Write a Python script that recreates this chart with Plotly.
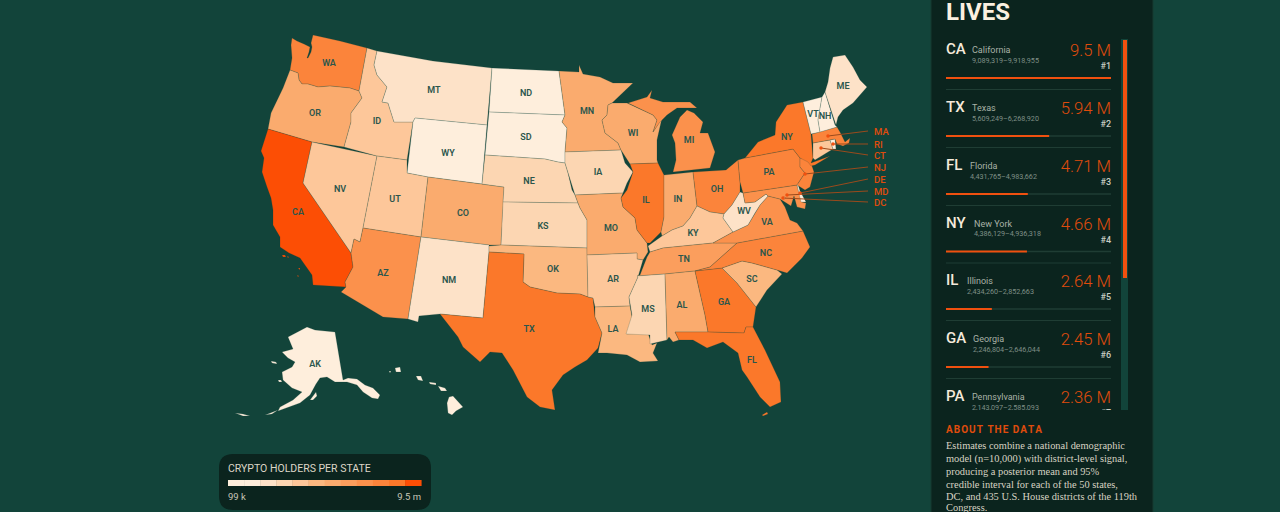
import numpy as np
import plotly.graph_objects as go

BG = "#12443a"
PANEL = "#0b241e"
ORANGE = "#e04c0c"

# state outlines, in picture pixels
WA = [[(292,38),(297,41),(304,44),(310,47),(309,52),(307,58),(308,58),(311,52),(312,47),(311,43),(313,35),(340,41),(367,48),(359,91),(350,88),(330,86),(318,87),(308,84),(302,84),(299,80),(298,73),(290,70),(292,58),(291,45)]]
OR = [[(290,70),(298,73),(299,80),(302,84),(308,84),(318,87),(330,86),(350,88),(359,91),(362,98),(351,113),(351,122),(344,147),(312,142),(268,129),(271,113),(283,88)]]
CA = [[(268,129),(312,142),(303,183),(351,253),(353,267),(345,282),(346,287),(313,285),(312,275),(300,258),(289,253),(280,247),(280,237),(273,225),(273,210),(271,198),(267,187),(262,172),(264,158),(261,151)],
      [(282,255),(285,255),(286,257),(283,257)],[(287,256),(289,257),(288,258)],[(298,268),(300,268),(300,270)],[(297,275),(299,276),(298,277)]]
NV = [[(312,142),(377,156),(363,228),(360,242),(354,239),(351,253),(303,183)]]
ID = [[(367,48),(377,51),(374,65),(377,75),(387,87),(382,102),(388,103),(394,122),(413,122),(407,160),(377,156),(344,147),(351,122),(351,113),(362,98),(359,91)]]
MT = [[(377,51),(433,61),(492,68),(487,125),(415,118),(413,122),(394,122),(388,103),(382,102),(387,87),(377,75),(374,65)]]
WY = [[(415,118),(487,125),(482,184),(428,177),(407,173),(413,122)]]
UT = [[(377,156),(407,160),(407,173),(428,177),(421,237),(363,228)]]
CO = [[(428,177),(482,184),(504,187),(501,245),(489,245),(421,237)]]
AZ = [[(363,228),(421,237),(408,319),(383,317),(341,292),(346,287),(345,282),(353,267),(351,253),(354,239),(360,242)]]
NM = [[(421,237),(489,245),(489,252),(483,318),(440,314),(419,316),(418,322),(408,319)]]
ND = [[(492,68),(559,71),(565,115),(489,112)]]
SD = [[(489,112),(565,115),(562,122),(567,128),(565,152),(565,163),(558,162),(545,159),(485,155)]]
NE = [[(485,155),(545,159),(558,162),(565,163),(568,173),(572,190),(575,195),(578,203),(503,202),(504,187),(482,184)]]
KS = [[(503,202),(578,203),(580,208),(587,220),(587,248),(501,245)]]
OK = [[(489,246),(501,245),(587,248),(588,297),(580,294),(557,293),(530,287),(523,282),(524,254),(489,252)]]
TX = [[(489,252),(524,254),(523,282),(530,287),(557,293),(580,294),(588,297),(593,298),(595,317),(602,333),(598,348),(587,360),(575,367),(563,375),(552,390),(555,410),(540,407),(527,397),(513,370),(502,353),(490,352),(480,362),(463,347),(458,337),(440,314),(483,318)]]
MN = [[(559,71),(579,72),(579,65),(583,74),(600,77),(613,83),(633,83),(612,103),(608,105),(607,115),(602,120),(605,133),(618,143),(621,150),(565,152),(567,128),(562,122),(565,115)]]
IA = [[(565,152),(621,150),(625,163),(633,172),(627,183),(623,193),(575,195),(568,173),(565,163)]]
MO = [[(575,195),(623,193),(621,198),(623,207),(635,218),(637,230),(647,243),(648,252),(643,260),(637,259),(637,253),(587,255),(587,220),(580,208),(578,203)]]
AR = [[(587,255),(637,253),(637,259),(643,260),(638,277),(629,297),(630,306),(595,307),(593,298),(588,297)]]
LA = [[(595,307),(630,306),(632,317),(627,334),(648,333),(652,345),(657,343),(653,353),(658,361),(640,362),(627,355),(607,353),(598,353),(602,333),(595,317)]]
WI = [[(608,105),(612,103),(627,103),(653,115),(657,120),(653,132),(662,118),(657,140),(657,160),(658,163),(630,164),(621,150),(618,143),(605,133),(602,120),(607,115)]]
IL = [[(630,164),(658,163),(664,175),(664,217),(661,232),(650,243),(647,243),(637,230),(635,218),(623,207),(621,198),(627,190),(633,172)]]
MI = [[(628,103),(647,97),(652,90),(650,98),(663,102),(690,102),(697,108),(677,108),(667,115),(660,122),(653,132),(657,120),(653,115)],
      [(673,172),(676,160),(675,143),(672,135),(680,117),(687,110),(694,113),(703,122),(700,133),(708,133),(715,152),(710,168)]]
IN = [[(664,175),(693,172),(697,206),(690,218),(683,226),(672,230),(662,236),(661,232),(664,217)]]
OH = [[(693,172),(717,171),(726,170),(738,160),(740,182),(740,192),(732,205),(724,214),(710,212),(697,206)]]
KY = [[(648,246),(662,236),(672,230),(683,226),(690,218),(697,206),(710,212),(724,214),(723,218),(733,232),(713,243),(663,248),(650,252)]]
TN = [[(650,252),(663,248),(713,243),(737,243),(710,267),(695,271),(665,274),(637,276),(640,275),(647,257)]]
MS = [[(637,276),(665,274),(667,340),(658,342),(650,344),(650,335),(626,334),(632,315),(629,297),(638,277)]]
AL = [[(665,274),(695,271),(705,315),(708,332),(675,332),(679,340),(673,342),(669,337),(667,340)]]
GA = [[(695,271),(722,268),(737,283),(756,307),(753,327),(746,327),(744,333),(708,332),(705,315)]]
FL = [[(675,332),(708,332),(744,333),(746,327),(753,327),(765,350),(780,382),(781,402),(770,407),(760,397),(747,377),(742,370),(738,353),(723,342),(707,348),(693,340),(679,340)],
      [(762,415),(767,412),(768,414),(763,416)]]
SC = [[(722,268),(742,261),(752,263),(777,270),(782,274),(767,290),(756,307),(737,283)]]
NC = [[(710,267),(737,243),(803,231),(810,247),(802,258),(787,273),(777,270),(752,263),(742,261),(722,268),(695,271)]]
VA = [[(713,243),(733,232),(748,225),(755,213),(760,205),(768,196),(780,199),(785,207),(790,220),(797,223),(803,231),(737,243)]]
WV = [[(732,205),(740,192),(743,193),(745,203),(755,202),(766,194),(768,196),(760,205),(755,213),(748,225),(733,232),(723,218),(724,214)]]
MD = [[(743,193),(797,185),(802,202),(806,203),(805,209),(797,207),(794,196),(791,206),(780,199),(768,196),(766,194),(755,202),(745,203)]]
DE = [[(797,181),(800,191),(806,202),(801,202),(797,185)]]
PA = [[(738,160),(745,158),(793,149),(800,158),(800,167),(805,173),(797,185),(743,193),(740,182)]]
NJ = [[(800,158),(810,160),(814,172),(810,187),(805,190),(797,185),(805,173),(800,167)]]
NY = [[(745,158),(758,142),(775,135),(776,122),(787,105),(803,102),(811,134),(813,158),(811,163),(830,156),(815,165),(811,166),(808,162),(800,158),(793,149)]]
CT = [[(813,143),(830,140),(833,149),(815,160),(813,158)]]
RI = [[(830,140),(835,139),(836,149),(833,149)]]
MA = [[(812,134),(837,127),(840,132),(845,142),(850,138),(849,143),(843,146),(837,144),(835,139),(830,140),(813,143)]]
VT = [[(803,102),(822,97),(818,120),(820,132),(811,134)]]
NH = [[(822,97),(825,92),(835,125),(837,127),(820,132),(818,120)]]
ME = [[(825,92),(828,82),(830,68),(833,57),(845,55),(853,67),(860,80),(867,87),(853,103),(843,110),(838,117),(836,125)]]
DC = [[(783,197),(785,197),(785,199),(783,199)]]
AK = [[(288,337),(297,332),(307,327),(315,330),(335,332),(343,380),(348,378),(357,379),(365,385),(373,388),(380,395),(378,399),(372,398),(363,392),(357,385),(347,382),(335,382),(327,377),(320,378),(316,384),(310,395),(300,403),(287,408),(278,411),(280,407),(293,400),(302,392),(292,388),(283,380),(282,372),(292,367),(295,362),(288,358),(282,352),(293,349)],
      [(235,413),(243,414),(250,416),(243,416)],[(265,415),(272,412),(278,410),(272,414)],[(310,400),(316,392),(317,396),(313,400)],
      [(271,361),(276,362),(277,364),(272,363)],[(278,380),(281,380),(282,382),(279,382)]]
HI = [[(447,403),(449,397),(453,396),(463,407),(456,411),(452,415),(448,413)],[(438,386),(445,388),(447,391),(441,391)],[(429,382),(436,383),(436,385),(430,384)],
      [(416,376),(421,376),(423,381),(418,380)],[(395,368),(400,367),(401,372),(396,372)],[(389,371),(391,371),(390,373)]]

STATE_CODES = ["WA","OR","CA","NV","ID","MT","WY","UT","CO","AZ","NM","ND","SD","NE","KS","OK","TX","MN","IA","MO","AR","LA","WI","IL","MI","IN","OH","KY","TN","MS","AL","GA","FL","SC","NC","VA","WV","MD","DE","PA","NJ","NY","CT","RI","MA","VT","NH","ME","DC","AK","HI"]
STATE_OUTLINES = [WA,OR,CA,NV,ID,MT,WY,UT,CO,AZ,NM,ND,SD,NE,KS,OK,TX,MN,IA,MO,AR,LA,WI,IL,MI,IN,OH,KY,TN,MS,AL,GA,FL,SC,NC,VA,WV,MD,DE,PA,NJ,NY,CT,RI,MA,VT,NH,ME,DC,AK,HI]
STATE_VALUES = [1.7,1.0,9.5,.58,.55,.22,.099,.56,1.05,1.45,.25,.11,.12,.33,.4,.72,5.94,1.0,.42,.9,.5,.7,.98,2.64,1.55,.95,2.05,.6,1.25,.38,.85,2.45,4.71,.75,1.98,1.5,.2,1.4,.16,2.36,1.85,4.66,.6,.13,1.65,.1,.15,.24,.12,.14,.17]

LEGEND_COLORS = ["#feeedc","#feeedc","#fde2c8","#fcd6b2","#fdc79a","#fbb880","#faab6e","#fb9e5d","#fb914c","#fb843b","#fb782a","#fc4e05"]
BIN_EDGES = [.18,.3,.45,.65,.8,1.1,1.3,1.6,2.4,9.0]
BIN_COLORS = ["#feeedc","#fde2c8","#fcd6b2","#fdc79a","#fbb880","#faab6e","#fb9e5d","#fb914c","#fb843b","#fb782a","#fc4e05"]

# label anchors
LABEL_CODES = ["WA","OR","CA","NV","ID","MT","WY","UT","CO","AZ","NM","ND","SD","NE","KS","OK","TX","MN","IA","MO","AR","LA","WI","IL","MI","IN","OH","KY","TN","MS","AL","GA","FL","SC","NC","VA","WV","PA","NY","VT","NH","ME","AK"]
LABEL_X = [329,315,298,340,377,434,448,395,463,383,449,526,526,529,543,553,529,587,598,611,613,613,633,646,689,678,717,693,684,648,682,724,752,752,766,767,744,769,787,813,825,843,315]
LABEL_Y = [63,113,212,189,121,90,153,199,213,273,280,93,137,181,226,269,329,111,172,228,279,329,133,200,140,199,189,233,259,309,305,302,360,279,253,222,211,172,137,114,116,86,364]

LEADER_CODES = ["MA","RI","CT","NJ","DE","MD","DC"]
LEADER_DOT_X = [828,833,821,805,800,787,783]
LEADER_DOT_Y = [136,144,148,174,193,195,198]
LEADER_END_X = [868,868,868,868,868,868,868]
LEADER_END_Y = [131,144,155,167,179,191,202]

RANK_CODES = ["CA","TX","FL","NY","IL","GA","PA"]
RANK_NAMES = ["California","Texas","Florida","New York","Illinois","Georgia","Pennsylvania"]
RANK_RANGES = ["9,089,319–9,918,955","5,609,249–6,268,920","4,431,765–4,983,662","4,386,129–4,936,318","2,434,260–2,852,663","2,246,804–2,646,044","2,143,097–2,585,093"]
RANK_VALUES = [9.5,5.94,4.71,4.66,2.64,2.45,2.36]
RANK_NAME_X = [972,972,970,974,967,973,972]
ROW_Y = [50,108,166,223.5,281,339,397]

ABOUT_LINES = ["Estimates combine a national demographic","model (n=10,000) with district-level signal,","producing a posterior mean and 95%","credible interval for each of the 50 states,","DC, and 435 U.S. House districts of the 119th","Congress."]
ABOUT_Y = [445.5,458,471,484,496.5,507]

fig = go.Figure()


def add_text(x, y, text, size, color, pos="middle right", weight=400, family="Roboto"):
    # text sits a little high for its middle anchor
    fig.add_trace(go.Scatter(x=x, y=[v + 1.2 for v in y], text=text, mode="text", textposition=pos, cliponaxis=False,
                             textfont=dict(size=size, color=color, family=family, weight=weight), hoverinfo="skip"))


# map
state_colors = [BIN_COLORS[i] for i in np.searchsorted(BIN_EDGES, STATE_VALUES)]
for code, parts, color in zip(STATE_CODES, STATE_OUTLINES, state_colors):
    xs, ys = [], []
    for part in parts:
        xs += [p[0] for p in part] + [part[0][0], None]
        ys += [p[1] for p in part] + [part[0][1], None]
    fig.add_trace(go.Scatter(x=xs, y=ys, mode="lines", fill="toself", fillcolor=color, name=code,
                             line=dict(color="rgba(18,68,58,0.28)", width=0.7), hoverinfo="name"))

add_text(LABEL_X, LABEL_Y, LABEL_CODES, 9, "#2b564c", "middle center", 600)

for i in range(len(LEADER_CODES)):
    fig.add_trace(go.Scatter(x=[LEADER_DOT_X[i], LEADER_END_X[i]], y=[LEADER_DOT_Y[i], LEADER_END_Y[i]], mode="lines",
                             line=dict(color="#9a4a1c", width=1), hoverinfo="skip"))
fig.add_trace(go.Scatter(x=LEADER_DOT_X, y=LEADER_DOT_Y, mode="markers", marker=dict(size=3.5, color="#f0500f"), hoverinfo="skip"))
add_text([874] * 7, LEADER_END_Y, LEADER_CODES, 9.5, ORANGE, "middle right", 500)

# ranking list
shapes = [
    dict(type="rect", x0=931, x1=1153, y0=-2, y1=514, fillcolor=PANEL, line=dict(color="#173a31", width=1), layer="below"),
    dict(type="rect", x0=1121, x1=1128, y0=39, y1=410, fillcolor="#12443a", line_width=0, layer="below"),
    dict(type="rect", x0=1123, x1=1127, y0=40, y1=278, fillcolor="#f0500f", line_width=0, layer="below"),
    dict(type="path", path="M 233 454 H 417 Q 431 454 431 468 V 496 Q 431 510 417 510 H 233 Q 219 510 219 496 V 468 Q 219 454 233 454 Z",
         fillcolor=PANEL, line_width=0, layer="below"),
]
# the seventh row is scrolled out below the list, so no bar or rule for it
for y in ROW_Y[:-1]:
    shapes.append(dict(type="line", x0=946, x1=1111, y0=y + 28, y1=y + 28, line=dict(color="#1f3d34", width=1.5), layer="below"))
    shapes.append(dict(type="line", x0=946, x1=1111, y0=y + 39.5, y1=y + 39.5, line=dict(color="#1f3d34", width=1), layer="below"))
# cut the scrolled list off at its lower edge
shapes.append(dict(type="rect", x0=935, x1=1120, y0=410, y1=424, fillcolor=PANEL, line_width=0, layer="above"))

for i, color in enumerate(LEGEND_COLORS):
    shapes.append(dict(type="rect", x0=228 + i * 16.1, x1=228 + (i + 1) * 16.1 + 0.4, y0=480, y1=486, fillcolor=color, line_width=0, layer="below"))

for v, y in zip(RANK_VALUES[:-1], ROW_Y[:-1]):
    fig.add_trace(go.Scatter(x=[946, 946 + 165 * v / RANK_VALUES[0]], y=[y + 28, y + 28], mode="lines", line=dict(color="#f0500f", width=2), hoverinfo="skip"))

add_text([946], [13], ["LIVES"], 24, "#fbf0e0", "middle right", 700)
add_text([946] * 7, [y - 0.5 for y in ROW_Y], RANK_CODES, 15, "#f5eadb", "middle right", 500)
add_text(RANK_NAME_X, ROW_Y, RANK_NAMES, 9, "#a9b2a6")
add_text(RANK_NAME_X, [y + 10 for y in ROW_Y], RANK_RANGES, 7.2, "#7f8f86")
add_text([1111] * 7, [y + 1 for y in ROW_Y], [f"{v:g} M" for v in RANK_VALUES], 16.7, ORANGE, "middle left", 300)
add_text([1111] * 7, [y + 16 for y in ROW_Y], [f"#{i + 1}" for i in range(7)], 9, "#c9cdc4", "middle left", 500)

add_text([946], [429.5], ["\u200a".join("ABOUT THE DATA")], 10, ORANGE, "middle right", 700)
add_text([946] * 6, ABOUT_Y, ABOUT_LINES, 10.4, "#d8d3c3", "middle right", 400, "Liberation Serif")

add_text([228], [468], ["CRYPTO HOLDERS PER STATE"], 10.5, "#ddd6c6")
add_text([228], [496], ["99 k"], 9.5, "#c9c6b8")
add_text([421], [496], ["9.5 m"], 9.5, "#c9c6b8", "middle left")

fig.update_layout(
    width=1280, height=512, margin=dict(l=0, r=0, t=0, b=0), showlegend=False,
    paper_bgcolor=BG, plot_bgcolor=BG, shapes=shapes,
    xaxis=dict(range=[0, 1280], visible=False, fixedrange=True),
    yaxis=dict(range=[512, 0], visible=False, fixedrange=True),
)
fig.write_html("out.html", config={"displayModeBar": False},
               post_script="document.body.style.margin='0';document.body.style.background='#12443a';document.body.style.overflow='hidden';")
